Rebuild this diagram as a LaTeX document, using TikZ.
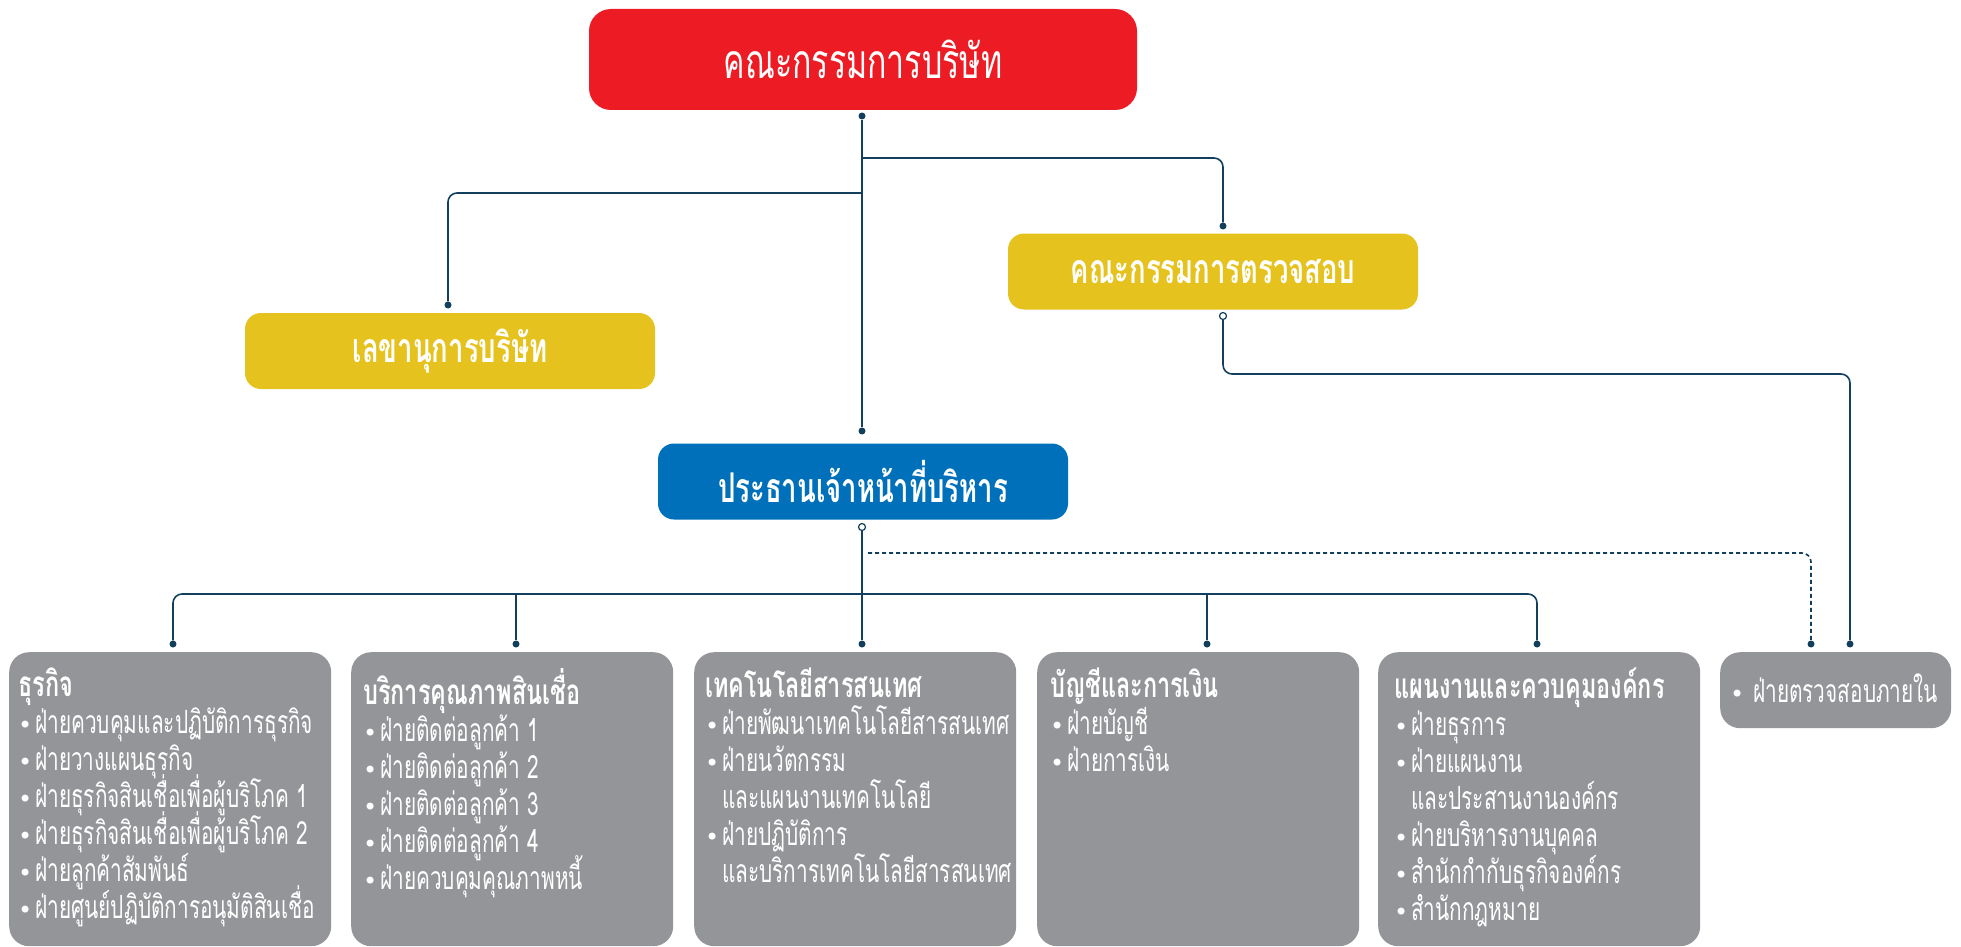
\documentclass[tikz,border=0pt]{standalone}
\usepackage{fontspec}
\newfontfamily\thaifont[Script=Thai,FakeStretch=0.67]{Loma}
\newfontfamily\thaitext[Script=Thai,FakeStretch=0.65]{Loma}
\newfontfamily\symfnt{DejaVu Sans}
\usetikzlibrary{calc}
\definecolor{cred}{HTML}{ED1C24}
\definecolor{cyel}{HTML}{E6C21E}
\definecolor{cblue}{HTML}{0070BA}
\definecolor{cgray}{HTML}{939598}
\definecolor{cline}{HTML}{123F5E}
\newcommand\bulx{\makebox[17pt][l]{\symfnt\fontsize{24}{24}\selectfont •}}
\newcommand\indx{\hspace*{17pt}}
\newcommand\gtitle[1]{{\thaifont\bfseries\fontsize{35}{37}\selectfont #1}}
\newcommand\tightlines{\lineskiplimit=-100pt\relax\lineskip=0pt\relax}
\tikzset{
  topbox/.style={fill=cred, rounded corners=22pt, minimum width=548pt, minimum height=101pt, text=white, inner sep=0pt, font=\thaifont\fontsize{48}{52}\selectfont},
  ybox/.style={fill=cyel, rounded corners=16pt, minimum width=410pt, minimum height=76pt, text=white, inner sep=0pt, font=\thaifont\bfseries\fontsize{41}{45}\selectfont},
  bbox/.style={ybox, fill=cblue},
  gbox/.style={fill=cgray, rounded corners=20pt, anchor=north west, minimum width=322pt, minimum height=294pt, inner sep=0pt},
  gtext/.style={text=white, align=left, anchor=north west, inner sep=0pt, font=\thaitext\fontsize{32}{37}\selectfont\tightlines},
  conn/.style={draw=cline, line width=1.6pt, rounded corners=9pt},
  dotn/.style={circle, fill=cline, inner sep=0pt, minimum size=7pt},
  odot/.style={circle, draw=cline, fill=white, line width=1.2pt, inner sep=0pt, minimum size=7pt},
}
\begin{document}
\begin{tikzpicture}[x=1pt,y=-1pt]
\useasboundingbox (0,0) rectangle (1961,947);
% top level boxes
\node[topbox] (board) at (863,59.5) {คณะกรรมการบริษัท};
\node[ybox] (sec) at (450,351) {เลขานุการบริษัท};
\node[ybox] (aud) at (1213,271.5) {คณะกรรมการตรวจสอบ};
\node[bbox] (ceo) at (863,481.5) {ประธานเจ้าหน้าที่บริหาร};
% gray boxes
\node[gbox] (g1) at (9,652) {};
\node[gbox] (g2) at (351,652) {};
\node[gbox] (g3) at (694,652) {};
\node[gbox] (g4) at (1037,652) {};
\node[gbox] (g5) at (1378,652) {};
\node[gbox, minimum width=231pt, minimum height=76pt] (g6) at (1720,652) {};
\node[gtext] (t1) at ($(g1.north west)+(9,16)$) {\gtitle{ธุรกิจ}\\
\bulx ฝ่ายควบคุมและปฏิบัติการธุรกิจ\\
\bulx ฝ่ายวางแผนธุรกิจ\\
\bulx ฝ่ายธุรกิจสินเชื่อเพื่อผู้บริโภค 1\\
\bulx ฝ่ายธุรกิจสินเชื่อเพื่อผู้บริโภค 2\\
\bulx ฝ่ายลูกค้าสัมพันธ์\\
\bulx ฝ่ายศูนย์ปฏิบัติการอนุมัติสินเชื่อ};
\node[gtext] (t2) at ($(g2.north west)+(12,16)$) {\gtitle{บริการคุณภาพสินเชื่อ}\\
\bulx ฝ่ายติดต่อลูกค้า 1\\
\bulx ฝ่ายติดต่อลูกค้า 2\\
\bulx ฝ่ายติดต่อลูกค้า 3\\
\bulx ฝ่ายติดต่อลูกค้า 4\\
\bulx ฝ่ายควบคุมคุณภาพหนี้};
\node[gtext] (t3) at ($(g3.north west)+(11,16)$) {\gtitle{เทคโนโลยีสารสนเทศ}\\
\bulx ฝ่ายพัฒนาเทคโนโลยีสารสนเทศ\\
\bulx ฝ่ายนวัตกรรม\\
\indx และแผนงานเทคโนโลยี\\
\bulx ฝ่ายปฏิบัติการ\\
\indx และบริการเทคโนโลยีสารสนเทศ};
\node[gtext] (t4) at ($(g4.north west)+(13,16)$) {\gtitle{บัญชีและการเงิน}\\
\bulx ฝ่ายบัญชี\\
\bulx ฝ่ายการเงิน};
\node[gtext] (t5) at ($(g5.north west)+(16,16)$) {\gtitle{แผนงานและควบคุมองค์กร}\\
\bulx ฝ่ายธุรการ\\
\bulx ฝ่ายแผนงาน\\
\indx และประสานงานองค์กร\\
\bulx ฝ่ายบริหารงานบุคคล\\
\bulx สำนักกำกับธุรกิจองค์กร\\
\bulx สำนักกฎหมาย};
\node[gtext, anchor=west] (t6) at ($(g6.west)+(10,-2)$) {\makebox[23pt][l]{\symfnt\fontsize{24}{24}\selectfont •}ฝ่ายตรวจสอบภายใน};
% dots
\node[dotn] (bd) at (862,116) {};
\node[dotn] (ceod) at (862,431) {};
\node[dotn] (audd) at (1223,226) {};
\node[dotn] (secd) at (448,305) {};
\node[odot] (audo) at (1223,316) {};
\node[odot] (ceoo) at (862,527) {};
\node[dotn] (d1) at (173,644) {};
\node[dotn] (d2) at (516,644) {};
\node[dotn] (d3) at (862,644) {};
\node[dotn] (d4) at (1207,644) {};
\node[dotn] (d5) at (1537,644) {};
\node[dotn] (d6) at (1811,644) {};
\node[dotn] (d7) at (1850,644) {};
\coordinate (j1) at (862,158);
\coordinate (j2) at (862,193);
\coordinate (j3) at (1850,374);
\coordinate (j4) at (868,553);
\coordinate (hl) at (173,594);
\coordinate (hr) at (1537,594);
% connectors
\draw[conn] (bd) -- (ceod);
\draw[conn] (j1) -| (audd);
\draw[conn] (j2) -| (secd);
\draw[conn] (audo) |- (j3) -- (d7);
\draw[conn] (ceoo) -- (d3);
\draw[conn, dash pattern=on 4pt off 3pt] (j4) -| (d6);
\draw[conn] (d1) -- (hl) -- (hr) -- (d5);
\draw[conn] (d2) -- (d2 |- hl);
\draw[conn] (d4) -- (d4 |- hl);
\end{tikzpicture}
\end{document}
